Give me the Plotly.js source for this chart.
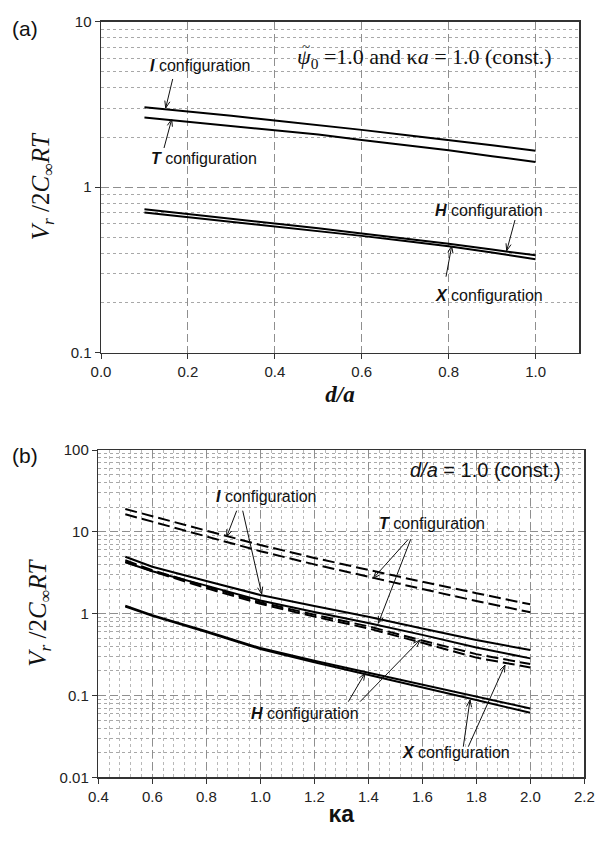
<!DOCTYPE html>
<html>
<head>
<meta charset="utf-8">
<script src="https://cdn.plot.ly/plotly-3.0.1.min.js"></script>
<style>html,body{margin:0;padding:0;background:#fff;}</style>
</head>
<body>
<div id="chart" style="width:597px;height:845px;"></div>
<script>
// ---------- Panel (a): Vr/2C∞RT vs d/a (ψ0 = 1.0, κa = 1.0) ----------
const dA = [0.1, 0.2, 0.3, 0.4, 0.5, 0.6, 0.7, 0.8, 0.9, 1.0];
const aI = [3.04, 2.87, 2.70, 2.53, 2.38, 2.22, 2.07, 1.93, 1.79, 1.66];
const aT = [2.64, 2.49, 2.35, 2.21, 2.08, 1.93, 1.80, 1.67, 1.54, 1.42];
const aH = [0.736, 0.69, 0.645, 0.605, 0.565, 0.525, 0.49, 0.455, 0.42, 0.388];
const aX = [0.703, 0.66, 0.62, 0.58, 0.545, 0.508, 0.473, 0.44, 0.403, 0.367];

// ---------- Panel (b): Vr/2C∞RT vs κa (d/a = 1.0) ----------
const kaB = [0.5, 0.6, 0.8, 1.0, 1.2, 1.4, 1.6, 1.8, 2.0];
const bIdash = [19.0, 15.5, 10.2, 6.9, 4.8, 3.4, 2.45, 1.78, 1.30];
const bTdash = [16.4, 13.3, 8.7, 5.8, 4.0, 2.8, 2.0, 1.43, 1.04];
const bIsolid = [4.96, 3.75, 2.5, 1.69, 1.24, 0.918, 0.66, 0.475, 0.359];
const bTsolid = [4.24, 3.3, 2.2, 1.45, 1.05, 0.77, 0.55, 0.386, 0.284];
const bHdash = [4.5, 3.4, 2.15, 1.38, 0.97, 0.70, 0.47, 0.32, 0.242];
const bXdash = [4.3, 3.3, 2.05, 1.32, 0.92, 0.66, 0.44, 0.29, 0.220];
const bHsolid = [1.25, 0.96, 0.61, 0.38, 0.265, 0.19, 0.135, 0.096, 0.0695];
const bXsolid = [1.22, 0.94, 0.595, 0.37, 0.255, 0.18, 0.126, 0.088, 0.0615];

// tick labels
const xTicksA = [0, 0.2, 0.4, 0.6, 0.8, 1.0];
const xTickTextA = ['0.0', '0.2', '0.4', '0.6', '0.8', '1.0'];
const yTicksA = [0.1, 1, 10];
const yTickTextA = ['0.1', '1', '10'];
const xTicksB = [0.4, 0.6, 0.8, 1.0, 1.2, 1.4, 1.6, 1.8, 2.0, 2.2];
const xTickTextB = ['0.4', '0.6', '0.8', '1.0', '1.2', '1.4', '1.6', '1.8', '2.0', '2.2'];
const yTicksB = [0.01, 0.1, 1, 10, 100];
const yTickTextB = ['0.01', '0.1', '1', '10', '100'];

// ---------- layout geometry (pixels) ----------
const W = 597, H = 845;
const GA = {l: 101, r: 579, t: 21.7, b: 352.7, xr: [0, 1.1], yr: [-1, 1]};
const GB = {l: 98.3, r: 584.3, t: 450, b: 777.3, xr: [0.4, 2.2], yr: [-2, 2]};
function toData(G, px, py) {
  return {
    x: G.xr[0] + (px - G.l) / (G.r - G.l) * (G.xr[1] - G.xr[0]),
    y: G.yr[1] - (py - G.t) / (G.b - G.t) * (G.yr[1] - G.yr[0])
  };
}
function minorLog(lo, hi) {
  const v = [];
  for (let e = lo; e < hi; e++) for (let m = 2; m <= 9; m++) v.push(m * Math.pow(10, e));
  return v;
}

const TICKFONT = {family: 'Liberation Sans, Arial, sans-serif', size: 15, color: '#222'};
const GRIDC = '#8f8f8f';
function baseAxis() {
  return {
    showline: true, linecolor: '#333', linewidth: 1.5, mirror: true,
    ticks: 'outside', ticklen: 5, tickcolor: '#333', tickwidth: 1,
    tickfont: TICKFONT, zeroline: false,
    showgrid: true, gridcolor: GRIDC, gridwidth: 1, griddash: '8px,4px',
    tickmode: 'array'
  };
}

const solid = {color: '#000', width: 2};
const dashed = {color: '#000', width: 2, dash: '12px,5px'};
const traces = [
  {x: dA, y: aI, mode: 'lines', line: solid, xaxis: 'x', yaxis: 'y', name: 'I (a)'},
  {x: dA, y: aT, mode: 'lines', line: solid, xaxis: 'x', yaxis: 'y', name: 'T (a)'},
  {x: dA, y: aH, mode: 'lines', line: solid, xaxis: 'x', yaxis: 'y', name: 'H (a)'},
  {x: dA, y: aX, mode: 'lines', line: solid, xaxis: 'x', yaxis: 'y', name: 'X (a)'},
  {x: kaB, y: bIdash, mode: 'lines', line: dashed, xaxis: 'x2', yaxis: 'y2', name: 'I dashed'},
  {x: kaB, y: bTdash, mode: 'lines', line: dashed, xaxis: 'x2', yaxis: 'y2', name: 'T dashed'},
  {x: kaB, y: bIsolid, mode: 'lines', line: solid, xaxis: 'x2', yaxis: 'y2', name: 'I solid'},
  {x: kaB, y: bTsolid, mode: 'lines', line: solid, xaxis: 'x2', yaxis: 'y2', name: 'T solid'},
  {x: kaB, y: bHdash, mode: 'lines', line: dashed, xaxis: 'x2', yaxis: 'y2', name: 'H dashed'},
  {x: kaB, y: bXdash, mode: 'lines', line: dashed, xaxis: 'x2', yaxis: 'y2', name: 'X dashed'},
  {x: kaB, y: bHsolid, mode: 'lines', line: solid, xaxis: 'x2', yaxis: 'y2', name: 'H solid'},
  {x: kaB, y: bXsolid, mode: 'lines', line: solid, xaxis: 'x2', yaxis: 'y2', name: 'X solid'}
];

const yTitleText = '<i>V<sub>r</sub></i> /2<i>C</i><sub>∞</sub><i>RT</i>';
const yTitleFont = {family: 'Liberation Serif, Times New Roman, serif', size: 25, color: '#111'};

const xaxis = Object.assign(baseAxis(), {
  domain: [GA.l / W, GA.r / W], range: GA.xr, anchor: 'y',
  tickvals: xTicksA, ticktext: xTickTextA,
  title: {text: '<b><i>d/a</i></b>', font: {family: 'Liberation Serif, Times New Roman, serif', size: 23, color: '#111'}, standoff: 6}
});
const yaxis = Object.assign(baseAxis(), {
  type: 'log', domain: [1 - GA.b / H, 1 - GA.t / H], range: GA.yr, anchor: 'x',
  tickvals: yTicksA, ticktext: yTickTextA,
  minor: {tickvals: minorLog(-1, 1), showgrid: true, gridcolor: '#a8a8a8', griddash: 'dot', gridwidth: 1, ticks: ''},
  title: {text: yTitleText, font: yTitleFont, standoff: 14}
});
const xaxis2 = Object.assign(baseAxis(), {
  domain: [GB.l / W, GB.r / W], range: GB.xr, anchor: 'y2',
  tickvals: xTicksB, ticktext: xTickTextB,
  minor: {tick0: 0.4, dtick: 0.04, showgrid: true, gridcolor: '#b8b8b8', griddash: 'dot', gridwidth: 1, ticks: ''},
  title: {text: '<b>κa</b>', font: {family: 'Liberation Sans, Arial, sans-serif', size: 23, color: '#111'}, standoff: 2}
});
const yaxis2 = Object.assign(baseAxis(), {
  type: 'log', domain: [1 - GB.b / H, 1 - GB.t / H], range: GB.yr, anchor: 'x2',
  tickvals: yTicksB, ticktext: yTickTextB,
  minor: {tickvals: minorLog(-2, 2), showgrid: true, gridcolor: '#a8a8a8', griddash: 'dot', gridwidth: 1, ticks: ''},
  title: {text: yTitleText, font: yTitleFont, standoff: 6}
});

const LABELFONT = {family: 'Liberation Sans, Arial, sans-serif', size: 16, color: '#111'};
const annotations = [];
const shapes = [];
function label(G, xr, yr, px, py, text, font, anchor) {
  const d = toData(G, px, py);
  annotations.push({xref: xr, yref: yr, x: d.x, y: d.y, text: text, showarrow: false,
    xanchor: anchor || 'center', yanchor: 'middle', font: font || LABELFONT});
}
// arrow drawn as a path in paper coordinates: shaft + open V head at the tip
function arrow(tx, ty, hx, hy) {
  const dx = hx - tx, dy = hy - ty, L = Math.hypot(dx, dy);
  const ux = dx / L, uy = dy / L, len = 7, half = 2.6;
  const bx = hx - ux * len, by = hy - uy * len;
  const p1x = bx - uy * half, p1y = by + ux * half;
  const p2x = bx + uy * half, p2y = by - ux * half;
  const X = v => (v / W).toFixed(5), Y = v => (1 - v / H).toFixed(5);
  shapes.push({type: 'path', xref: 'paper', yref: 'paper',
    path: `M${X(tx)},${Y(ty)} L${X(hx)},${Y(hy)} M${X(p1x)},${Y(p1y)} L${X(hx)},${Y(hy)} L${X(p2x)},${Y(p2y)}`,
    line: {color: '#111', width: 1}});
}
const cfg = L => '<b><i>' + L + '</i></b> configuration';
const SERIF = {family: 'Liberation Serif, Times New Roman, serif', size: 22, color: '#111'};

// panel (a) labels
label(GA, 'x', 'y', 200, 65, cfg('I'));
label(GA, 'x', 'y', 204, 158, cfg('T'));
label(GA, 'x', 'y', 489, 210, cfg('H'));
label(GA, 'x', 'y', 489, 295, cfg('X'));
label(GA, 'x', 'y', 295, 58, '<i>ψ</i><sub>0</sub> =1.0 and κ<i>a</i> = 1.0 (const.)', SERIF, 'left');
label(GA, 'x', 'y', 306, 47, '~', {family: 'Liberation Serif, Times New Roman, serif', size: 15, color: '#111'});
arrow(172.7, 79, 165.7, 108);
arrow(164, 148, 171.7, 119.3);
arrow(515, 220, 506.7, 250.7);
arrow(446, 276.7, 451.7, 246);

// panel (b) labels
label(GB, 'x2', 'y2', 485, 470, '<i>d/a</i> = 1.0 (const.)',
  {family: 'Liberation Sans, Arial, sans-serif', size: 20, color: '#111'});
label(GB, 'x2', 'y2', 266.5, 496.7, cfg('I'));
label(GB, 'x2', 'y2', 431.5, 523.3, cfg('T'));
label(GB, 'x2', 'y2', 305, 713.3, cfg('H'));
label(GB, 'x2', 'y2', 455.5, 752, cfg('X'));
arrow(236.7, 510.7, 226.7, 536.7);
arrow(242.7, 510.7, 261.7, 594);
arrow(408.3, 539.3, 373.3, 578.3);
arrow(410.7, 539.3, 378.3, 623.3);
arrow(348.3, 701.7, 365, 673.3);
arrow(360, 701.7, 420, 640);
arrow(463.3, 746.7, 470, 700);
arrow(468.3, 746.7, 505, 665);

// panel tags
annotations.push({xref: 'paper', yref: 'paper', x: 10 / W, y: 1 - 28 / H, text: '(a)', showarrow: false,
  xanchor: 'left', yanchor: 'middle', font: {family: 'Liberation Sans, Arial, sans-serif', size: 21, color: '#111'}});
annotations.push({xref: 'paper', yref: 'paper', x: 10 / W, y: 1 - 455 / H, text: '(b)', showarrow: false,
  xanchor: 'left', yanchor: 'middle', font: {family: 'Liberation Sans, Arial, sans-serif', size: 21, color: '#111'}});

const layout = {
  width: W, height: H,
  margin: {l: 0, r: 0, t: 0, b: 0, pad: 0},
  paper_bgcolor: '#fff', plot_bgcolor: '#fff',
  showlegend: false,
  xaxis: xaxis, yaxis: yaxis, xaxis2: xaxis2, yaxis2: yaxis2,
  annotations: annotations, shapes: shapes
};

Plotly.newPlot('chart', traces, layout, {staticPlot: true, displayModeBar: false});
</script>
</body>
</html>
